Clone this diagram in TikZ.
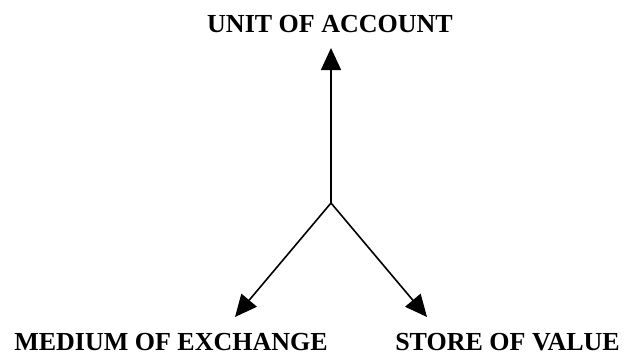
\documentclass[tikz,border=0pt]{standalone}
\usepackage{fontspec}
\setmainfont{Liberation Serif}
\usetikzlibrary{arrows.meta}

\begin{document}
\begin{tikzpicture}[x=1pt,y=-1pt,
  lbl/.style={anchor=base,font=\fontsize{26}{30}\selectfont\bfseries,inner sep=0pt},
  arr/.style={line width=1.6pt,-{Triangle[length=22pt,width=20pt]}}]
\useasboundingbox (0,0) rectangle (626,356);
\node[lbl] (unit) at (330,32) {UNIT OF ACCOUNT};
\node[lbl] (medium) at (171,350) {MEDIUM OF EXCHANGE};
\node[lbl] (store) at (507.5,350) {STORE OF VALUE};
\coordinate (hub) at (331,203);
\coordinate (up) at (331,48);
\coordinate (left) at (235,317);
\coordinate (right) at (427,317);
\draw[arr] (hub) -- (up);
\draw[arr] (hub) -- (left);
\draw[arr] (hub) -- (right);
\end{tikzpicture}
\end{document}
